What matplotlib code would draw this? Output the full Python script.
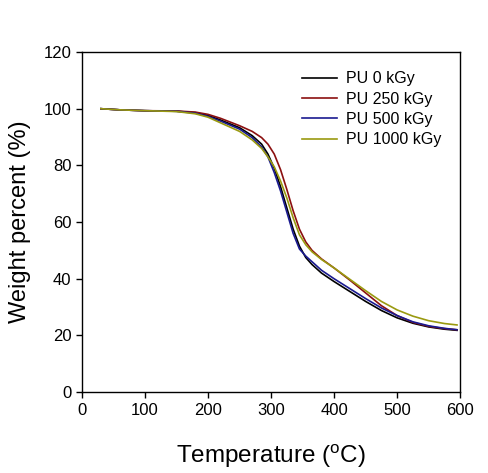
import matplotlib
matplotlib.use("Agg")
import matplotlib.pyplot as plt

plt.rcParams['font.family'] = ['Liberation Sans', 'DejaVu Sans']

# TGA curves
temp_0 = [30, 60, 100, 150, 180, 200, 220, 250, 270, 285, 295, 305, 315, 325, 335, 345, 355, 365, 380, 400, 425, 450, 475, 500, 525, 550, 575, 595]
wt_0 = [100, 99.6, 99.3, 99.1, 98.6, 97.6, 96.0, 93.3, 90.5, 87.5, 84.0, 79.0, 72.5, 65.0, 57.5, 51.5, 47.5, 45.0, 42.0, 39.0, 35.5, 32.0, 28.8, 26.2, 24.3, 23.0, 22.2, 21.8]

temp_250 = [30, 60, 100, 150, 180, 200, 220, 250, 270, 285, 295, 305, 315, 325, 335, 345, 355, 365, 380, 400, 425, 450, 475, 500, 525, 550, 575, 595]
wt_250 = [100, 99.6, 99.3, 99.2, 98.8, 98.0, 96.6, 94.0, 92.0, 89.8, 87.5, 84.0, 78.5, 71.5, 64.0, 57.5, 53.0, 50.0, 47.0, 43.8, 39.5, 35.0, 30.5, 27.0, 24.6, 23.2, 22.4, 22.0]

temp_500 = [30, 60, 100, 150, 180, 200, 220, 250, 270, 285, 295, 305, 315, 325, 335, 345, 355, 365, 380, 400, 425, 450, 475, 500, 525, 550, 575, 595]
wt_500 = [100, 99.6, 99.3, 99.1, 98.4, 97.3, 95.6, 92.8, 89.8, 86.5, 83.0, 77.5, 71.0, 63.5, 56.0, 50.5, 48.0, 46.0, 43.0, 40.0, 36.5, 33.0, 29.7, 27.0, 24.8, 23.4, 22.5, 22.0]

temp_1000 = [30, 60, 100, 150, 180, 200, 220, 250, 270, 285, 295, 305, 315, 325, 335, 345, 355, 365, 380, 400, 425, 450, 475, 500, 525, 550, 575, 595]
wt_1000 = [100, 99.6, 99.3, 99.0, 98.2, 97.0, 95.0, 92.0, 89.0, 86.0, 83.0, 79.5, 74.5, 68.5, 61.5, 55.5, 52.0, 49.5, 46.8, 43.8, 39.8, 35.8, 32.0, 29.0, 26.8, 25.2, 24.2, 23.7]

labels = ["PU 0 kGy", "PU 250 kGy", "PU 500 kGy", "PU 1000 kGy"]
colors = ["#000000", "#8b1010", "#1a1a90", "#9a9a10"]

fig = plt.figure(figsize=(4.88, 4.73), dpi=100)
ax = fig.add_axes([0.168, 0.171, 0.775, 0.719])

series = [(temp_0, wt_0), (temp_250, wt_250), (temp_500, wt_500), (temp_1000, wt_1000)]
for (t, w), lab, c in zip(series, labels, colors):
    ax.plot(t, w, color=c, lw=1.2, label=lab)

ax.set_xlim(0, 600)
ax.set_ylim(0, 120)
ax.set_xticks(range(0, 601, 100))
ax.set_yticks(range(0, 121, 20))
ax.tick_params(direction="out", length=4, width=1, labelsize=12, top=False, right=False)
for sp in ax.spines.values():
    sp.set_linewidth(1.0)

ax.set_xlabel("Temperature ($\\mathregular{^{o}}$C)", fontsize=17.5, labelpad=18)
ax.set_ylabel("Weight percent (%)", fontsize=17, labelpad=9)

ax.legend(loc="upper left", bbox_to_anchor=(0.582, 0.943), frameon=False, fontsize=11.5,
          handlelength=2.2, handletextpad=0.55, labelspacing=0.33,
          borderpad=0, borderaxespad=0)

fig.savefig("out.png", dpi=100)
